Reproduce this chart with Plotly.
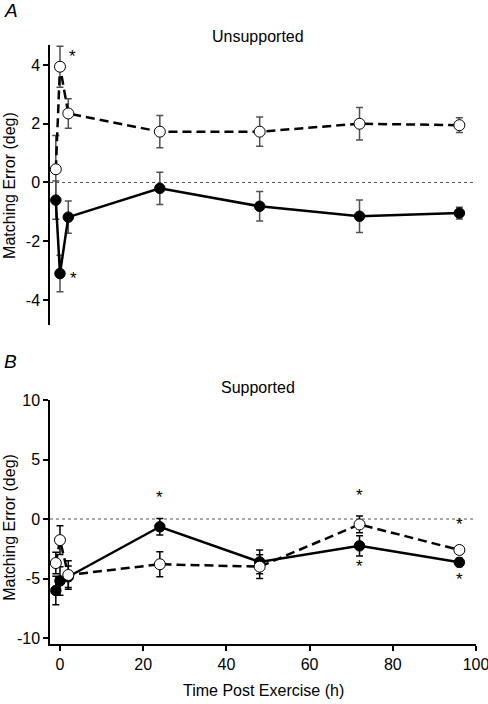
import plotly.graph_objects as go

# ---- data ----
times = [-1, 0, 2, 24, 48, 72, 96]

unsup_filled = [-0.6, -3.1, -1.18, -0.2, -0.81, -1.15, -1.04]
unsup_filled_err = [0.65, 0.62, 0.55, 0.55, 0.5, 0.55, 0.2]
unsup_open = [0.45, 3.94, 2.35, 1.73, 1.73, 2.0, 1.95]
unsup_open_err = [1.15, 0.7, 0.5, 0.55, 0.5, 0.55, 0.25]

sup_filled = [-6.0, -5.2, -4.85, -0.65, -3.6, -2.25, -3.64]
sup_filled_err = [1.2, 1.2, 0.9, 0.7, 1.0, 0.85, 0.35]
sup_open = [-3.7, -1.77, -4.7, -3.8, -4.0, -0.45, -2.6]
sup_open_err = [0.9, 1.2, 1.2, 1.05, 1.0, 0.7, 0.35]

# significance markers (x, y)
stars_A_x = [2.9, 3.3]
stars_A_y = [4.28, -3.26]
stars_B_x = [24, 72, 72, 96, 96]
stars_B_y = [1.8, 1.96, -4.0, -0.5, -5.1]

xticks = [0, 20, 40, 60, 80, 100]
yticks_A = [-4, -2, 0, 2, 4]
yticks_B = [-10, -5, 0, 5, 10]

FONT = "Liberation Sans, Arial, Helvetica, sans-serif"

fig = go.Figure()


def add_series(x, y, err, xa, ya, filled, errcolor):
    fig.add_trace(go.Scatter(
        x=x, y=y, xaxis=xa, yaxis=ya, mode="lines+markers",
        line=dict(color="black", width=2.5, dash="solid" if filled else "9px,5px"),
        marker=dict(size=10.5 if filled else 11, color="black" if filled else "white",
                    line=dict(color="black", width=1)),
        error_y=dict(type="data", array=err, visible=True, color=errcolor,
                     thickness=1.5, width=3.5),
        showlegend=False, hoverinfo="skip"))


# Panel A
add_series(times, unsup_open, unsup_open_err, "x", "y", False, "#505050")
add_series(times, unsup_filled, unsup_filled_err, "x", "y", True, "#505050")
# Panel B
add_series(times, sup_filled, sup_filled_err, "x2", "y2", True, "black")
add_series(times, sup_open, sup_open_err, "x2", "y2", False, "black")

# zero reference lines
for xr, yr in (("x domain", "y"), ("x2 domain", "y2")):
    fig.add_shape(type="line", xref=xr, yref=yr, x0=0, x1=1, y0=0, y1=0,
                  line=dict(color="#555555", width=1, dash="dot"), layer="below")

axis_common = dict(showgrid=False, zeroline=False, showline=True, linecolor="black",
                   linewidth=1.5, ticks="outside", ticklen=5, tickwidth=1.5, tickcolor="black",
                   automargin=False, ticklabeloverflow="allow",
                   tickfont=dict(size=16, family=FONT, color="black"))

fig.update_layout(
    width=488, height=704,
    margin=dict(l=50, r=12, t=45, b=60, autoexpand=False),
    paper_bgcolor="white", plot_bgcolor="white",
    font=dict(family=FONT, color="black"),
    xaxis=dict(domain=[0, 1], range=[-2.4, 100], anchor="y", visible=False),
    yaxis=dict(domain=[0.5326, 1], range=[-4.85, 4.68], tickvals=yticks_A,
               ticktext=[str(v) for v in yticks_A], anchor="x", **axis_common),
    xaxis2=dict(domain=[0, 1], range=[-2.4, 100], anchor="y2", tickvals=xticks,
                ticktext=[str(v) for v in xticks], **axis_common),
    yaxis2=dict(domain=[0, 0.4073], range=[-10.5, 10], tickvals=yticks_B,
                ticktext=[str(v) for v in yticks_B], anchor="x2", **axis_common),
)

C = dict(xanchor="center", yanchor="middle", showarrow=False)
ann = [
    dict(text="Unsupported", xref="paper", yref="paper", x=0.488, y=1.015,
         font=dict(size=16), **C),
    dict(text="Supported", xref="paper", yref="paper", x=0.488, y=0.429,
         font=dict(size=16), **C),
    dict(text="<i>A</i>", xref="paper", yref="paper", x=-0.112, y=1.058, xanchor="left",
         yanchor="middle", showarrow=False, font=dict(size=19)),
    dict(text="<i>B</i>", xref="paper", yref="paper", x=-0.112, y=0.4708, xanchor="left",
         yanchor="middle", showarrow=False, font=dict(size=19)),
    dict(text="Matching Error (deg)", xref="paper", yref="y domain", x=-0.094, y=0.5,
         textangle=-90, font=dict(size=16), **C),
    dict(text="Matching Error (deg)", xref="paper", yref="y2 domain", x=-0.094, y=0.48,
         textangle=-90, font=dict(size=16), **C),
    dict(text="Time Post Exercise (h)", xref="paper", yref="paper", x=0.5, y=-0.0768,
         font=dict(size=16), **C),
]
for sx, sy in zip(stars_A_x, stars_A_y):
    ann.append(dict(text="*", xref="x", yref="y", x=sx, y=sy, yshift=0,
                    font=dict(size=17), **C))
for sx, sy in zip(stars_B_x, stars_B_y):
    ann.append(dict(text="*", xref="x2", yref="y2", x=sx, y=sy, yshift=0,
                    font=dict(size=17), **C))
fig.update_layout(annotations=ann)

fig.write_html("out.html", config={"displayModeBar": False},
               post_script="document.body.style.margin='0';")
